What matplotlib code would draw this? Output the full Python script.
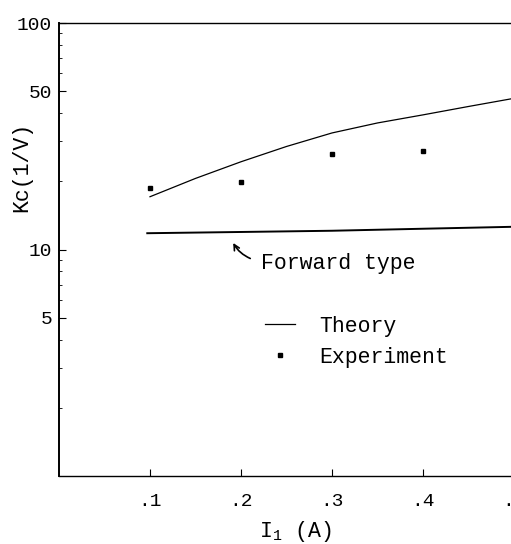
import numpy as np
import matplotlib
matplotlib.use('Agg')
import matplotlib.pyplot as plt

plt.rcParams['font.family'] = ['Liberation Mono', 'DejaVu Sans Mono']
plt.rcParams['mathtext.fontset'] = 'custom'
plt.rcParams['mathtext.rm'] = 'Liberation Mono'
plt.rcParams['mathtext.it'] = 'Liberation Mono'

# data
i1_theory = [0.1, 0.15, 0.2, 0.25, 0.3, 0.35, 0.4, 0.45, 0.5]
kc_theory = [17.1, 20.6, 24.4, 28.5, 32.7, 36.2, 39.3, 42.8, 46.5]
i1_forward = [0.097, 0.2, 0.3, 0.4, 0.5]
kc_forward = [11.8, 11.95, 12.1, 12.35, 12.6]
i1_exp = [0.1, 0.2, 0.3, 0.4, 0.5]
kc_exp = [18.6, 19.9, 26.5, 27.3, 32.6]

x_ticks = [0.1, 0.2, 0.3, 0.4, 0.5]
x_ticklabels = ['.1', '.2', '.3', '.4', '.5']
y_ticks = [5, 10, 50, 100]
y_ticklabels = ['5', '10', '50', '100']

W, H = 511, 544
fig = plt.figure(figsize=(W / 100, H / 100), dpi=100)
# axes runs off the right side of the picture (scan is cropped)
ax = fig.add_axes([59 / W, (H - 476) / H, 500.5 / W, 453 / H])

ax.plot(i1_theory, kc_theory, color='black', lw=0.9, label='Theory')
ax.plot(i1_forward, kc_forward, color='black', lw=1.4)
ax.plot(i1_exp, kc_exp, 's', color='black', ms=3.5, label='Experiment')

ax.set_yscale('log')
ax.set_xlim(0, 0.55)
ax.set_ylim(1, 100)
ax.set_xticks(x_ticks)
ax.set_xticklabels(x_ticklabels)
ax.set_yticks(y_ticks)
ax.set_yticklabels(y_ticklabels)
ax.yaxis.set_minor_locator(matplotlib.ticker.LogLocator(base=10, subs=np.arange(2, 10)))
ax.yaxis.set_minor_formatter(matplotlib.ticker.NullFormatter())

ax.tick_params(which='major', direction='in', length=5, width=0.8, labelsize=14)
ax.tick_params(which='minor', direction='in', length=2.5, width=0.6)
ax.tick_params(axis='x', pad=12)
ax.tick_params(axis='y', pad=5)
ax.spines['left'].set_linewidth(1.4)
ax.spines['bottom'].set_linewidth(1.0)
ax.spines['top'].set_linewidth(1.0)

# arrow and label for the forward-type line
ax.annotate('', xy=(0.190, 10.96), xytext=(0.213, 9.03),
            arrowprops=dict(arrowstyle='->', color='black', lw=1.2,
                            connectionstyle='arc3,rad=-0.2'))
ax.text(0.222, 8.7, 'Forward type', fontsize=15.5, va='center', ha='left')

ax.legend(loc='upper left', bbox_to_anchor=(265 / W, 1 - 316 / H),
          bbox_transform=fig.transFigure, frameon=False, fontsize=15.5,
          handlelength=1.4, handletextpad=1.1, labelspacing=0.45,
          borderpad=0, borderaxespad=0, markerscale=1.0)

fig.text(22 / W, 1 - 167 / H, 'Kc(1/V)', rotation=90, fontsize=15.5,
         ha='center', va='center')
fig.text(295 / W, 1 - 532 / H, r'I$_{\rm 1}$ (A)', fontsize=15.5,
         ha='center', va='center')

fig.savefig('out.png', dpi=100)
